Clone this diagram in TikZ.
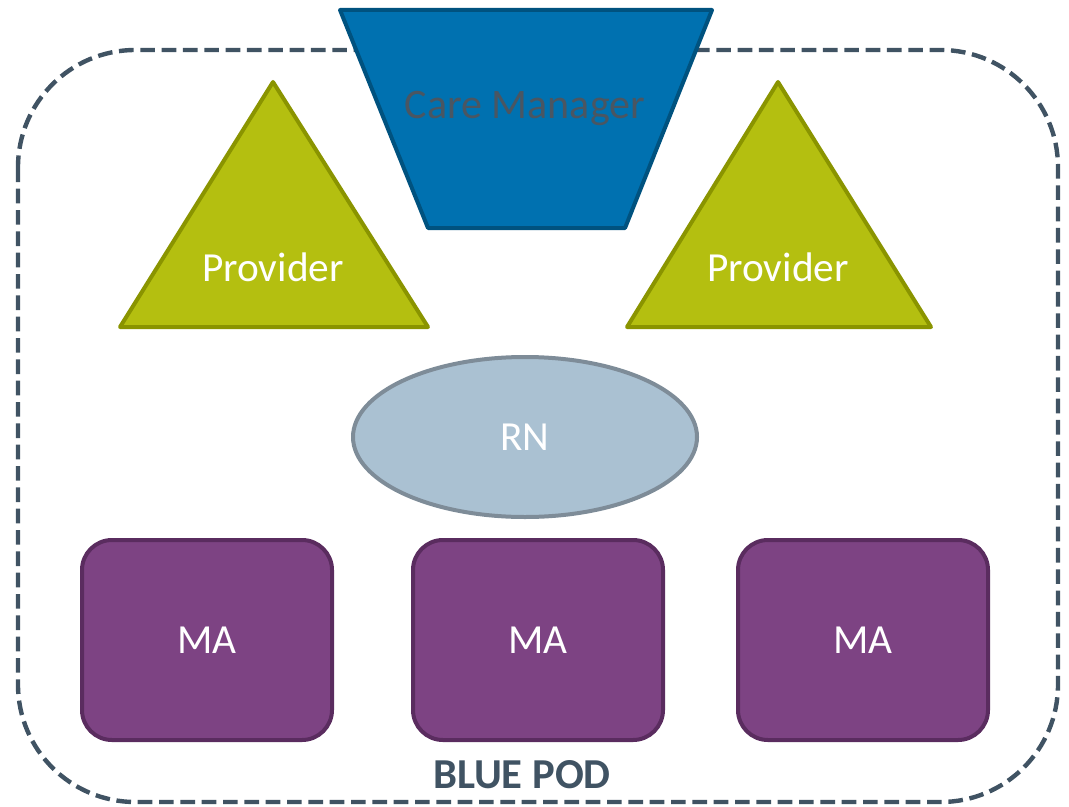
\documentclass[tikz,border=0pt]{standalone}
\usepackage{fontspec}
\setmainfont{Carlito}
\usetikzlibrary{shapes.geometric}
\definecolor{cmfill}{HTML}{0071B0}
\definecolor{cmdraw}{HTML}{00527F}
\definecolor{cmtext}{HTML}{4A5662}
\definecolor{prfill}{HTML}{B4BF10}
\definecolor{prdraw}{HTML}{8A9400}
\definecolor{rnfill}{HTML}{AAC1D2}
\definecolor{rndraw}{HTML}{7E8C98}
\definecolor{mafill}{HTML}{7D4383}
\definecolor{madraw}{HTML}{5A2C5F}
\definecolor{podcol}{HTML}{405363}
\tikzset{
  px/.style={x=0.75pt,y=-0.75pt},
  lbl/.style={font=\fontsize{31}{36}\selectfont, text=white},
  mabox/.style={draw=madraw, fill=mafill, line width=3pt, rounded corners=22.5pt},
  provtri/.style={draw=prdraw, fill=prfill, line width=3pt, line join=round},
}
\begin{document}
\begin{tikzpicture}[px]
\useasboundingbox (0,0) rectangle (1069,806);
% dashed pod frame
\draw[podcol, line width=3.3pt, dash pattern=on 11pt off 5pt, rounded corners=88pt]
  (18,50) rectangle (1058,802);
\node[font=\bfseries\fontsize{32}{38}\selectfont, text=podcol] (pod) at (522,775) {BLUE POD};
% care manager trapezoid
\draw[draw=cmdraw, fill=cmfill, line width=3pt, line join=round]
  (340,10) -- (712,10) -- (625,228) -- (428,228) -- cycle;
\node[font=\fontsize{31.5}{36}\selectfont, text=cmtext] (cm) at (525,108) {Care Manager};
% providers
\draw[provtri] (273,82) -- (428,327) -- (120,327) -- cycle;
\node[lbl] (p1) at (273,267) {Provider};
\draw[provtri] (778,82) -- (931,327) -- (627,327) -- cycle;
\node[lbl] (p2) at (778,267) {Provider};
% RN
\node[ellipse, draw=rndraw, fill=rnfill, line width=3pt, minimum width=344*0.75pt, minimum height=160*0.75pt, lbl] (rn) at (525,437) {RN};
% MAs
\draw[mabox] (82,540) rectangle (332,740);
\node[lbl] (ma1) at (207,640) {MA};
\draw[mabox] (413,540) rectangle (663,740);
\node[lbl] (ma2) at (538,640) {MA};
\draw[mabox] (738,540) rectangle (988,740);
\node[lbl] (ma3) at (863,640) {MA};
\end{tikzpicture}
\end{document}
